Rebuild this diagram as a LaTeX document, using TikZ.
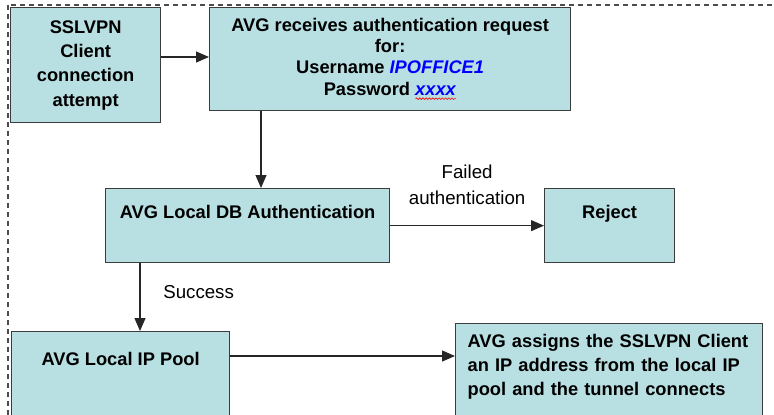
\documentclass[tikz,border=0pt]{standalone}
\usepackage{fontspec}
\setmainfont{Liberation Sans}
\usetikzlibrary{arrows.meta,decorations.pathmorphing}
\definecolor{boxfill}{RGB}{184,223,226}
\definecolor{boxline}{RGB}{60,60,60}
\newcommand{\spellwave}[1]{\sbox0{#1}\rlap{\usebox0}\raisebox{-2.6pt}{\tikz[baseline=0pt]\draw[red, line width=0.45pt, decorate, decoration={snake, amplitude=0.55pt, segment length=2.3pt}] (0,0) -- (\wd0,0);}}
\newcommand{\hl}[1]{\textcolor{blue}{\textit{#1}}}

\begin{document}
\begin{tikzpicture}[
  stepbox/.style={rectangle, draw=boxline, fill=boxfill, line width=0.9pt, anchor=north west, align=center, inner sep=2pt, font=\bfseries\fontsize{13}{17.3}\selectfont},
  raised/.style={text depth=#1},
  flow/.style={-{Triangle[length=0.32cm, width=0.27cm]}, draw=black!85, line width=0.85pt},
  edgelabel/.style={align=center, font=\fontsize{13.3}{18.5}\selectfont},
  frame/.style={draw=black!70, line width=0.8pt, dash pattern=on 0.125cm off 0.1cm}
]
  \clip (0,0) rectangle (19.35,-10.35);
  % Dashed surround (cut off right and below)
  \draw[frame] (0.2,-0.125) rectangle (19.9,-10.9);
  % Request stage (top)
  \node[stepbox, minimum width=3.75cm, minimum height=2.875cm] (client) at (0.25,-0.175) {SSLVPN\\Client\\connection\\attempt};
  \node[stepbox, minimum width=9.025cm, minimum height=2.575cm, font=\bfseries\fontsize{13}{15}\selectfont] (authreq) at (5.225,-0.175) {AVG receives authentication request\\for:\\Username \hl{IPOFFICE1}\\Password \hl{\spellwave{xxxx}}};
  % Authentication stage (middle)
  \node[stepbox, minimum width=7.1cm, minimum height=1.85cm, raised=0.7cm] (dbauth) at (2.625,-4.7) {AVG Local DB Authentication};
  \node[stepbox, minimum width=3.25cm, minimum height=1.85cm, raised=0.7cm] (reject) at (13.6,-4.7) {Reject};
  % Address stage (bottom)
  \node[stepbox, minimum width=5.45cm, minimum height=2.35cm, raised=1.0cm] (pool) at (0.275,-8.275) {AVG Local IP Pool};
  \node[stepbox, minimum width=7.675cm, minimum height=2.65cm, raised=1.8cm, inner xsep=0.3cm, text width=7.075cm, align=left] (assign) at (11.375,-8.075) {AVG assigns the SSLVPN Client\\an IP address from the local IP\\pool and the tunnel connects};
  % Connectors
  \draw[flow] ([yshift=-1.25cm]client.north east) -- ([yshift=-1.25cm]client.north east -| authreq.west);
  \draw[flow] ([xshift=1.3cm]authreq.south west) -- ([xshift=1.3cm]authreq.south west |- dbauth.north);
  \draw[flow] (dbauth) -- node[edgelabel, above=0.38cm]{Failed\\authentication} (reject);
  \draw[flow] ([xshift=0.875cm]dbauth.south west) -- node[edgelabel, right=0.45cm, pos=0.42]{Success} ([xshift=0.875cm]dbauth.south west |- pool.north);
  \draw[flow] ([yshift=-0.625cm]pool.north east) -- ([yshift=-0.625cm]pool.north east -| assign.west);
\end{tikzpicture}
\end{document}
